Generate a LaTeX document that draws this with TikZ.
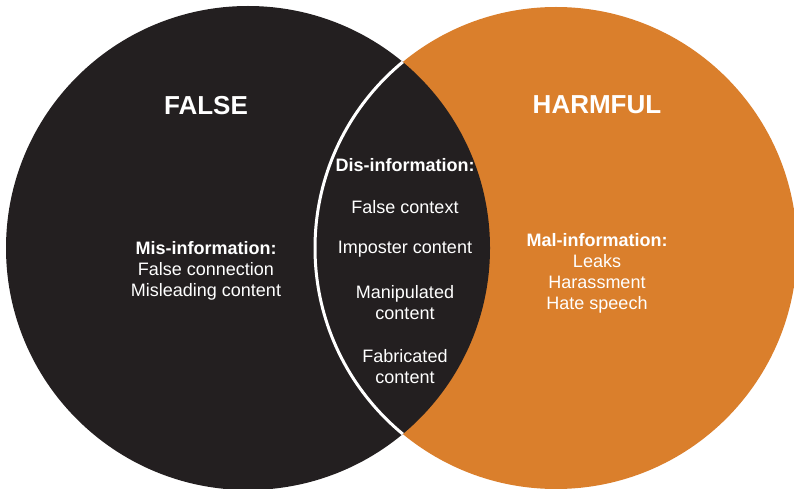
\documentclass[tikz,border=0pt]{standalone}
\usepackage{fontspec}
\setmainfont{Liberation Sans}
\usepackage{tikz}
\definecolor{falseblack}{HTML}{231F20}
\definecolor{harmorange}{HTML}{DA7F2C}

\begin{document}
\begin{tikzpicture}[x=1pt, y=1pt,
        title/.style={text=white, font=\fontsize{26}{30}\selectfont\bfseries},
        kind/.style={text=white, align=center, font=\fontsize{18}{21}\selectfont}]
        \useasboundingbox (0,0) rectangle (794,488);

        \fill[harmorange] (556,240) circle (241);
        \fill[falseblack] (248,240) circle (242);
        \begin{scope}
            \clip (248,240) circle (242);
            \draw[white, line width=3pt] (556,240) circle (241);
        \end{scope}

        \node[title] (false) at (206,382) {FALSE};
        \node[title] (harmful) at (597,383) {HARMFUL};

        \node[kind] (misinfo) at (206,217) {\textbf{Mis-information:}\\False connection\\Misleading content};
        \node[kind] (malinfo) at (597,215) {\textbf{Mal-information:}\\Leaks\\Harassment\\Hate speech};

        \node[kind] (disinfo) at (405,323) {\textbf{Dis-information:}};
        \node[kind] (context) at (405,281) {False context};
        \node[kind] (imposter) at (405,239) {Imposter content};
        \node[kind] (manipulated) at (405,185.5) {Manipulated\\content};
        \node[kind] (fabricated) at (405,121.5) {Fabricated\\content};
    \end{tikzpicture}
\end{document}
